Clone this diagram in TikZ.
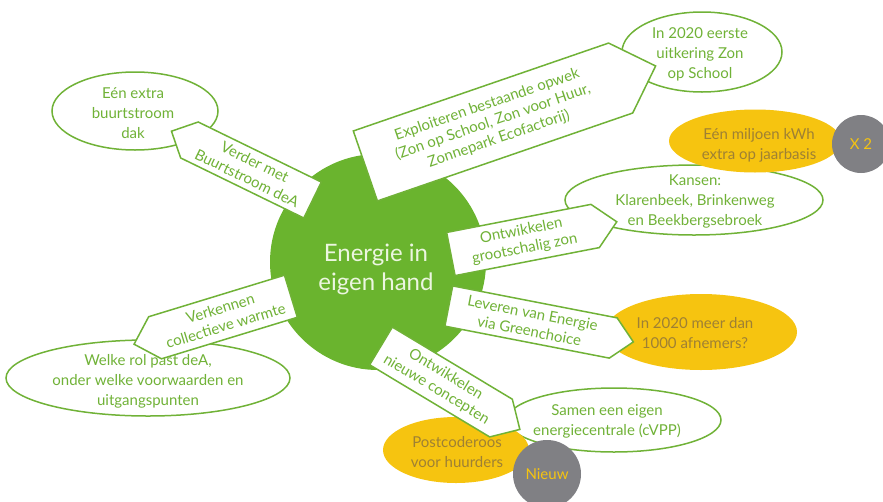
\documentclass[tikz,border=0pt]{standalone}
\usepackage{fontspec}
\setmainfont{Lato}
\usetikzlibrary{shapes.symbols,shapes.geometric}
\definecolor{leafgreen}{RGB}{112,178,55}
\definecolor{hubgreen}{RGB}{106,180,46}
\definecolor{hubtext}{RGB}{236,246,224}
\definecolor{sunyellow}{RGB}{246,196,16}
\definecolor{goldtext}{RGB}{158,128,52}
\definecolor{badgegray}{RGB}{128,128,132}
\begin{document}
\begin{tikzpicture}[x=1pt,y=-1pt,
  hub/.style={circle,fill=hubgreen,inner sep=0pt},
  hubtext/.style={text=hubtext,align=center,font=\fontsize{24}{29}\selectfont},
  leaf/.style={ellipse,draw=leafgreen,line width=1.5pt,fill=white,inner sep=0pt},
  leaftext/.style={text=leafgreen,align=center,font=\fontsize{15}{20}\selectfont},
  goal/.style={ellipse,fill=sunyellow,inner sep=0pt},
  goaltext/.style={text=goldtext,align=center,font=\fontsize{15}{20}\selectfont},
  badge/.style={circle,fill=badgegray,text=sunyellow,inner sep=0pt,font=\fontsize{15}{18}\selectfont},
  branch/.style={signal,signal pointer angle=90,draw=leafgreen,line width=1.5pt,fill=white,
    text=leafgreen,align=center,inner sep=0pt,font=\fontsize{15}{18}\selectfont}]
\useasboundingbox (0,0) rectangle (883,501);

\node[hub,minimum size=216] (hub) at (378,262) {};
\node[hubtext] (hubtitle) at (376,269) {Energie in\\eigen hand};

\node[leaf,minimum width=166,minimum height=78] (extradak) at (135,111) {};
\node[leaftext] (extradaktext) at (133,113) {Eén extra\\buurtstroom\\dak};
\node[leaf,minimum width=160,minimum height=80] (zonschool) at (702,52) {};
\node[leaftext] (zonschooltext) at (700,54) {In 2020 eerste\\uitkering Zon\\op School};
\node[leaf,minimum width=258,minimum height=70] (kansen) at (694,200) {};
\node[leaftext] (kansentext) at (695,201) {Kansen:\\Klarenbeek, Brinkenweg\\en Beekbergsebroek};
\node[leaf,minimum width=284,minimum height=76] (rolDeA) at (148,378) {};
\node[leaftext] (rolDeAtext) at (148,381) {Welke rol past deA,\\onder welke voorwaarden en\\uitgangspunten};
\node[leaf,minimum width=214,minimum height=64] (cvpp) at (614,420) {};
\node[leaftext] (cvpptext) at (607,421) {Samen een eigen\\energiecentrale (cVPP)};

\node[goal,minimum width=172,minimum height=63] (miljoen) at (755,141) {};
\node[goaltext] (miljoentext) at (759,145) {Eén miljoen kWh\\extra op jaarbasis};
\node[goal,minimum width=192,minimum height=76] (afnemers) at (701,332) {};
\node[goaltext] (afnemerstext) at (695,333) {In 2020 meer dan\\1000 afnemers?};
\node[goal,minimum width=146,minimum height=66] (postcode) at (456,450) {};
\node[goaltext] (postcodetext) at (457,452) {Postcoderoos\\voor huurders};

\node[badge,minimum size=58] (xtwee) at (861,144) {X 2};
\node[badge,minimum size=68] (nieuw) at (547,474) {Nieuw};

\node[branch,signal to=west,minimum width=157,minimum height=40,rotate=-26] (buurtstroom) at (251,170) {Verder met\\Buurtstroom deA};
\node[branch,signal to=east,minimum width=307,minimum height=74,rotate=19] (opwek) at (493,122) {Exploiteren bestaande opwek\\(Zon op School, Zon voor Huur,\\Zonnepark Ecofactorij)};
\node[branch,signal to=east,minimum width=169,minimum height=44,rotate=11] (grootzon) at (523,240) {Ontwikkelen\\grootschalig zon};
\node[branch,signal to=east,minimum width=188,minimum height=41,rotate=-11] (levering) at (531,322) {Leveren van Energie\\via Greenchoice};
\node[branch,signal to=east,minimum width=162,minimum height=44,rotate=-31] (concepten) at (441,382) {Ontwikkelen\\nieuwe concepten};
\node[branch,signal to=west,minimum width=164,minimum height=44,rotate=17] (warmte) at (223,317) {Verkennen\\collectieve warmte};
\end{tikzpicture}
\end{document}
